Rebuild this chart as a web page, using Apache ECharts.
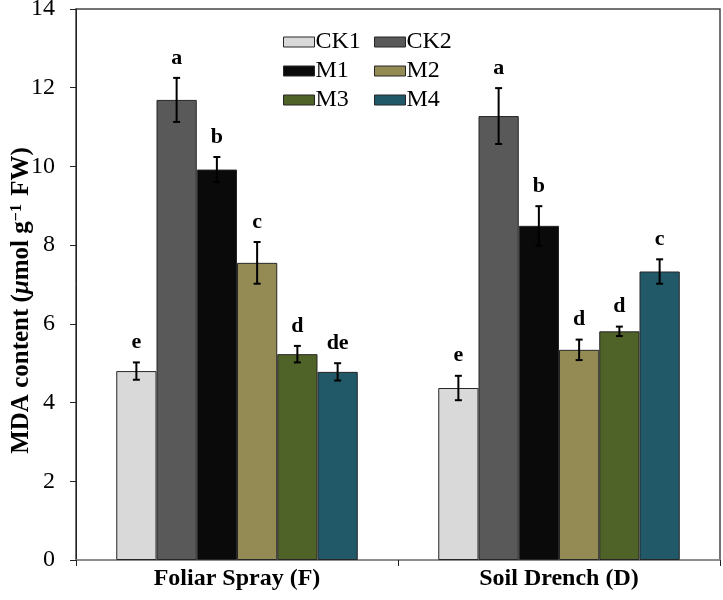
<!DOCTYPE html>
<html>
<head>
<meta charset="utf-8">
<script src="https://cdn.jsdelivr.net/npm/echarts@6/dist/echarts.min.js"></script>
<style>
  html, body { margin: 0; padding: 0; background: #fff; }
  #chart { width: 723px; height: 600px; }
</style>
</head>
<body>
<div id="chart"></div>
<script>
var categories = ['Foliar Spray (F)', 'Soil Drench (D)'];
var seriesNames = ['CK1', 'CK2', 'M1', 'M2', 'M3', 'M4'];
var yTicks = [0, 2, 4, 6, 8, 10, 12, 14];

// means
var ck1 = [4.80, 4.37];
var ck2 = [11.69, 11.28];
var m1 = [9.92, 8.49];
var m2 = [7.55, 5.34];
var m3 = [5.23, 5.81];
var m4 = [4.78, 7.33];

// error bar half-lengths
var ck1Err = [0.22, 0.31];
var ck2Err = [0.56, 0.71];
var m1Err = [0.32, 0.50];
var m2Err = [0.53, 0.26];
var m3Err = [0.21, 0.12];
var m4Err = [0.22, 0.31];

// significance letters
var ck1Sig = ['e', 'e'];
var ck2Sig = ['a', 'a'];
var m1Sig = ['b', 'b'];
var m2Sig = ['c', 'd'];
var m3Sig = ['d', 'd'];
var m4Sig = ['de', 'c'];

var colors = ['#d9d9d9', '#595959', '#0a0a0a', '#948a54', '#4f6228', '#215968'];
var values = [ck1, ck2, m1, m2, m3, m4];
var errs = [ck1Err, ck2Err, m1Err, m2Err, m3Err, m4Err];
var sigs = [ck1Sig, ck2Sig, m1Sig, m2Sig, m3Sig, m4Sig];

var font = '"Liberation Serif", "Times New Roman", serif';
var catGap = 0.25;

var dom = document.getElementById('chart');
var myChart = echarts.init(dom);

function errorRenderer(idx) {
    return function (params, api) {
        var cw = api.size([1, 0])[0];
        var total = cw * (1 - catGap);
        var bw = total / seriesNames.length;
        var off = -total / 2 + (idx + 0.5) * bw;
        var cat = api.value(0);
        var v = api.value(1);
        var e = api.value(2);
        var top = api.coord([cat, v + e]);
        var bot = api.coord([cat, v - e]);
        var x = top[0] + off;
        var cap = 3.5;
        var st = { stroke: '#000', lineWidth: 2 };
        return {
            type: 'group',
            children: [
                { type: 'line', shape: { x1: x, y1: top[1], x2: x, y2: bot[1] }, style: st },
                { type: 'line', shape: { x1: x - cap, y1: top[1], x2: x + cap, y2: top[1] }, style: st },
                { type: 'line', shape: { x1: x - cap, y1: bot[1], x2: x + cap, y2: bot[1] }, style: st },
                {
                    type: 'text',
                    style: {
                        x: x, y: top[1] - 9,
                        text: sigs[idx][params.dataIndex],
                        textAlign: 'center', textVerticalAlign: 'bottom',
                        font: 'bold 22px ' + font, fill: '#000'
                    }
                }
            ]
        };
    };
}

var series = [];
seriesNames.forEach(function (name, i) {
    series.push({
        name: name,
        type: 'bar',
        data: values[i],
        barGap: 0,
        barCategoryGap: '25%',
        itemStyle: { color: colors[i], borderColor: '#262626', borderWidth: 1 }
    });
});
seriesNames.forEach(function (name, i) {
    series.push({
        type: 'custom',
        name: name + ' err',
        z: 5,
        renderItem: errorRenderer(i),
        encode: { x: 0, y: 1 },
        data: values[i].map(function (v, j) { return [j, v, errs[i][j]]; })
    });
});

var legendBase = {
    orient: 'vertical',
    top: 25,
    itemWidth: 31,
    itemHeight: 10,
    itemGap: 5,
    icon: 'rect',
    selectedMode: false,
    textStyle: { fontFamily: font, fontSize: 24, color: '#000', padding: [0, 0, 0, -4] },
    itemStyle: { borderColor: '#262626', borderWidth: 1 }
};

option = {
    animation: false,
    color: colors,
    grid: {
        left: 76, right: 3, top: 9, bottom: 40,
        outerBoundsMode: 'none',
        containLabel: false,
        show: true, borderColor: '#444', borderWidth: 1.5
    },
    legend: [
        Object.assign({}, legendBase, { left: 278, data: ['CK1', 'M1', 'M3'] }),
        Object.assign({}, legendBase, { left: 369, data: ['CK2', 'M2', 'M4'] })
    ],
    xAxis: {
        type: 'category',
        data: categories,
        axisLine: { lineStyle: { color: '#999', width: 1.5 } },
        axisTick: { show: true, length: 6, lineStyle: { color: '#222' } },
        axisLabel: { margin: 7, fontFamily: font, fontSize: 24, fontWeight: 'bold', color: '#000' }
    },
    yAxis: {
        type: 'value',
        min: yTicks[0],
        max: yTicks[yTicks.length - 1],
        interval: 2,
        name: '{b|MDA content (}{i|μ}{b|mol g}{s|−1}{b| FW)}',
        nameLocation: 'middle',
        nameGap: 42,
        nameMoveOverlap: false,
        nameTextStyle: {
            padding: [0, 32, 0, 0],
            rich: {
                b: { fontFamily: font, fontSize: 25, fontWeight: 'bold', color: '#000' },
                i: { fontFamily: font, fontSize: 25, fontWeight: 'bold', fontStyle: 'italic', color: '#000' },
                s: { fontFamily: font, fontSize: 16, fontWeight: 'bold', color: '#000', verticalAlign: 'top', padding: [0, 2, 0, 0] }
            }
        },
        axisLine: { show: true, lineStyle: { color: '#222', width: 1 } },
        axisTick: { show: true, length: 6, lineStyle: { color: '#222' } },
        splitLine: { show: false },
        axisLabel: { margin: 21, fontFamily: font, fontSize: 24, color: '#000' }
    },
    series: series
};

if (option && typeof option === 'object') {
    myChart.setOption(option);
}
</script>
</body>
</html>
